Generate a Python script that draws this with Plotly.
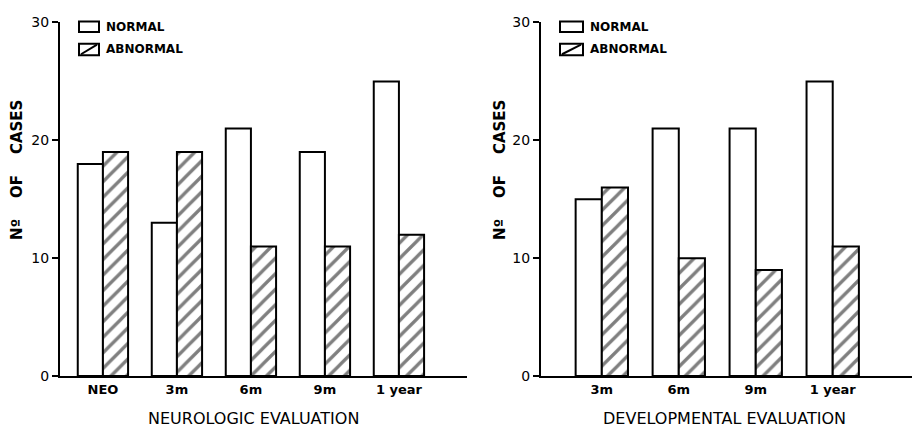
import plotly.graph_objects as go

# ---- data ----
neuro_categories = ["NEO", "3m", "6m", "9m", "1 year"]
neuro_normal = [18, 13, 21, 19, 25]
neuro_abnormal = [19, 19, 11, 11, 12]

dev_categories = ["3m", "6m", "9m", "1 year"]
dev_normal = [15, 21, 21, 25]
dev_abnormal = [16, 10, 9, 11]

y_ticks = [0, 10, 20, 30]
series_names = ["NORMAL", "ABNORMAL"]
panel_titles = ["NEUROLOGIC EVALUATION", "DEVELOPMENTAL EVALUATION"]
y_title = "Nº&nbsp;&nbsp;&nbsp;&nbsp;OF&nbsp;&nbsp;&nbsp;&nbsp;CASES"

W, H = 913, 440
FONT = "DejaVu Sans"

def px_x(p):
    return p / W

def px_y(p):
    return 1 - p / H

line_style = dict(color="black", width=2)
hatch = dict(shape="/", fgcolor="black", bgcolor="white", size=11, solidity=0.3)

fig = go.Figure()
for xa, ya, cats, nrm, abn in [("x", "y", neuro_categories, neuro_normal, neuro_abnormal),
                               ("x2", "y2", dev_categories, dev_normal, dev_abnormal)]:
    fig.add_trace(go.Bar(x=cats, y=nrm, name=series_names[0], xaxis=xa, yaxis=ya,
                         marker=dict(color="white", line=line_style), showlegend=False))
    fig.add_trace(go.Bar(x=cats, y=abn, name=series_names[1], xaxis=xa, yaxis=ya,
                         marker=dict(color="white", line=line_style, pattern=hatch),
                         showlegend=False))

ydom = [px_y(382), px_y(15)]
axis_common = dict(showgrid=False, zeroline=False, showline=True, linecolor="black",
                   linewidth=2, ticklabeloverflow="allow")
xtickfont = dict(family=FONT, size=13, color="black", weight="bold")
ytickfont = dict(family=FONT, size=14, color="black")

fig.update_layout(
    width=W, height=H, autosize=False,
    margin=dict(l=0, r=0, t=0, b=0),
    paper_bgcolor="white", plot_bgcolor="white",
    barmode="group", bargap=0.32, bargroupgap=0,
    xaxis=dict(domain=[px_x(60), px_x(467)], anchor="y", type="category",
               categoryorder="array", categoryarray=neuro_categories,
               range=[-0.58, 4.92], ticks="", tickfont=xtickfont, **axis_common),
    yaxis=dict(domain=ydom, anchor="x", range=[0, 30], tickvals=y_ticks,
               ticks="outside", ticklen=6, tickwidth=2, tickcolor="black",
               tickfont=ytickfont, **axis_common),
    xaxis2=dict(domain=[px_x(541), px_x(912)], anchor="y2", type="category",
                categoryorder="array", categoryarray=dev_categories,
                range=[-0.79, 4.03], ticks="", tickfont=xtickfont, **axis_common),
    yaxis2=dict(domain=ydom, anchor="x2", range=[0, 30], tickvals=y_ticks,
                ticks="outside", ticklen=6, tickwidth=2, tickcolor="black",
                tickfont=ytickfont, **axis_common),
)

shapes = []
annotations = []
# legends (manual)
for bx0, bx1, tx in [(79, 99, 104), (560, 583, 588)]:
    shapes.append(dict(type="rect", xref="paper", yref="paper",
                       x0=px_x(bx0), x1=px_x(bx1), y0=px_y(25), y1=px_y(14),
                       line=dict(color="black", width=2), fillcolor="white"))
    shapes.append(dict(type="rect", xref="paper", yref="paper",
                       x0=px_x(bx0), x1=px_x(bx1), y0=px_y(49), y1=px_y(37),
                       line=dict(color="black", width=2), fillcolor="white"))
    shapes.append(dict(type="line", xref="paper", yref="paper",
                       x0=px_x(bx0 + 2), x1=px_x(bx1 - 2), y0=px_y(48), y1=px_y(38),
                       line=dict(color="black", width=2)))
    annotations.append(dict(text="<b>" + series_names[0] + "</b>", xref="paper", yref="paper",
                            x=px_x(tx), y=px_y(19.5), xanchor="left", yanchor="middle",
                            showarrow=False, font=dict(family=FONT, size=12, color="black")))
    annotations.append(dict(text="<b>" + series_names[1] + "</b>", xref="paper", yref="paper",
                            x=px_x(tx), y=px_y(43), xanchor="left", yanchor="middle",
                            showarrow=False, font=dict(family=FONT, size=12, color="black")))

# panel titles
for cx, t in [(253, panel_titles[0]), (724, panel_titles[1])]:
    annotations.append(dict(text=t, xref="paper", yref="paper", x=px_x(cx), y=px_y(426),
                            xanchor="center", yanchor="middle", showarrow=False,
                            font=dict(family=FONT, size=16, color="black")))
# y titles
for cx in [17, 500]:
    annotations.append(dict(text="<b>" + y_title + "</b>", xref="paper", yref="paper",
                            x=px_x(cx), y=px_y(168), xanchor="center", yanchor="middle",
                            textangle=-90, showarrow=False,
                            font=dict(family=FONT, size=15, color="black")))

fig.update_layout(shapes=shapes, annotations=annotations)
fig.write_html("out.html",
               config={"displayModeBar": False, "responsive": False},
               post_script="document.body.style.margin='0';document.body.style.overflow='hidden';")
